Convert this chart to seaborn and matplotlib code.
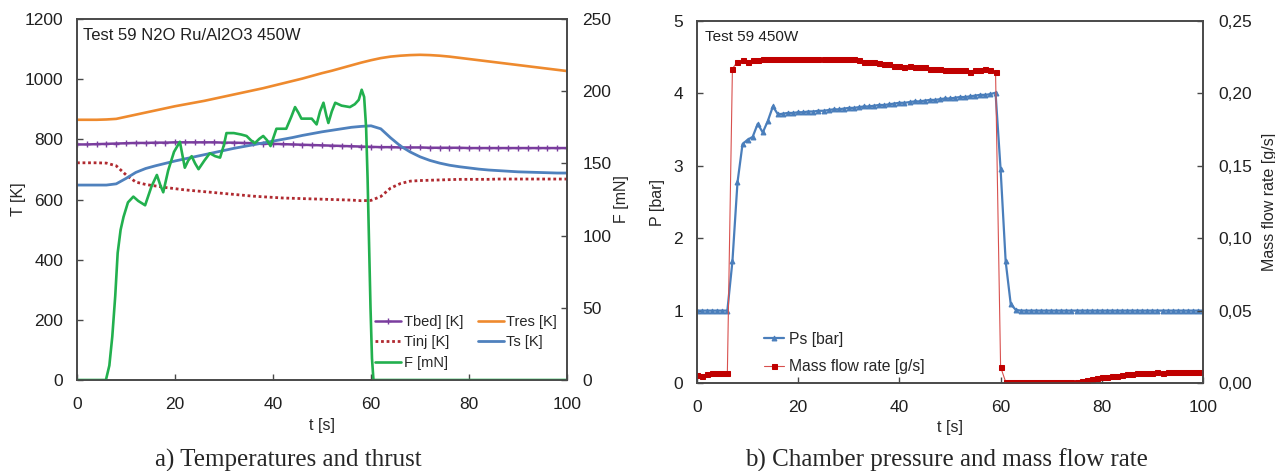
import numpy as np
import pandas as pd
import seaborn as sns
import matplotlib.pyplot as plt
from matplotlib.ticker import FuncFormatter, MultipleLocator

# ---------------- data : panel a) temperatures and thrust ----------------
t_temp = np.arange(0, 101, 2)
T_bed = [783, 783, 784, 785, 786, 787, 788, 788, 789, 789,
         790, 790, 790, 790, 790, 789, 789, 788, 787, 786,
         785, 784, 783, 782, 781, 780, 779, 778, 777, 776,
         775, 774, 774, 773, 773, 773, 772, 772, 772, 772,
         771, 771, 771, 771, 771, 771, 771, 771, 771, 771, 771]
T_res = [865, 865, 865, 866, 868, 875, 882, 889, 896, 903,
         910, 916, 922, 928, 935, 942, 949, 956, 963, 970,
         978, 986, 994, 1002, 1011, 1020, 1028, 1037, 1046, 1055,
         1063, 1070, 1075, 1078, 1080, 1081, 1080, 1078, 1075, 1071,
         1067, 1063, 1059, 1055, 1051, 1047, 1043, 1039, 1035, 1031, 1027]
T_inj = [722, 722, 722, 721, 712, 682, 658, 650, 645, 640,
         636, 632, 629, 626, 623, 620, 617, 614, 611, 609,
         607, 605, 604, 603, 602, 601, 600, 599, 598, 596,
         597, 610, 638, 653, 661, 663, 664, 665, 666, 667,
         667, 667, 667, 668, 668, 668, 668, 668, 668, 668, 668]
T_s = [648, 648, 648, 648, 652, 670, 690, 703, 712, 720,
       728, 735, 742, 749, 756, 763, 770, 776, 782, 788,
       794, 800, 806, 813, 819, 825, 830, 835, 840, 843,
       845, 835, 805, 778, 758, 742, 730, 721, 714, 709,
       705, 701, 698, 696, 694, 692, 691, 690, 689, 688, 688]

t_F = [0, 5.9, 6.6, 7.2, 7.8, 8.3, 8.9, 9.5, 10.4, 11.5,
       12.5, 13.9, 15.2, 16.3, 17.0, 17.6, 18.6, 19.8, 21.0, 21.5,
       22.0, 22.7, 23.4, 24.1, 24.8, 26.0, 27.1, 28.2, 29.2, 30.0,
       30.5, 32.0, 33.5, 34.6, 35.5, 36.3, 37.2, 38.0, 38.8, 39.5,
       40.1, 40.7, 42.7, 43.7, 44.5, 45.2, 45.8, 47.9, 48.9, 49.6,
       50.3, 50.9, 51.3, 52.0, 52.7, 54.0, 55.7, 56.7, 57.5, 58.1,
       58.6, 59.0, 59.3, 59.6, 59.9, 60.2, 60.5, 100]
F_mN = [0, 0, 10, 30, 58, 88, 104, 113, 123, 127,
        124, 121, 134, 142, 135, 130, 145, 158, 165, 156,
        147, 152, 155, 150, 146, 152, 157, 155, 154, 163,
        171, 171, 170, 169, 166, 164, 167, 169, 166, 162,
        168, 174, 174, 182, 189, 185, 181, 181, 177, 186,
        192, 183, 178, 186, 192, 190, 189, 191, 194, 201,
        196, 175, 140, 95, 50, 15, 0, 0]

# ---------------- data : panel b) chamber pressure and mass flow ----------------
t_p = np.arange(0, 101, 1)
P_s = [1.00, 1.00, 1.00, 1.00, 1.00, 1.00, 1.00,
       1.68, 2.77, 3.30, 3.36, 3.40, 3.58, 3.46, 3.62, 3.82, 3.71, 3.72,
       3.73, 3.73, 3.74, 3.74, 3.75, 3.75, 3.76, 3.76, 3.77, 3.78,
       3.78, 3.79, 3.80, 3.80, 3.81, 3.82, 3.82, 3.83, 3.84, 3.84,
       3.85, 3.86, 3.87, 3.87, 3.88, 3.89, 3.89, 3.90, 3.91, 3.91,
       3.92, 3.93, 3.93, 3.94, 3.95, 3.95, 3.96, 3.97, 3.98, 3.98,
       3.99, 4.01, 2.95, 1.68, 1.09, 1.01,
       1.00, 1.00, 1.00, 1.00, 1.00, 1.00, 1.00, 1.00, 1.00, 1.00,
       1.00, 1.00, 1.00, 1.00, 1.00, 1.00, 1.00, 1.00, 1.00, 1.00,
       1.00, 1.00, 1.00, 1.00, 1.00, 1.00, 1.00, 1.00, 1.00, 1.00,
       1.00, 1.00, 1.00, 1.00, 1.00, 1.00, 1.00]
m_dot = [0.0055, 0.0048, 0.0065, 0.0068, 0.0068, 0.0068, 0.0068,
         0.217, 0.222, 0.223, 0.222, 0.223, 0.223, 0.224, 0.224, 0.224,
         0.224, 0.224, 0.224, 0.224, 0.224, 0.224, 0.224, 0.224, 0.224,
         0.224, 0.224, 0.224, 0.224, 0.224, 0.224, 0.224, 0.223, 0.222,
         0.222, 0.222, 0.221, 0.220, 0.220, 0.219, 0.219, 0.218, 0.219,
         0.218, 0.218, 0.218, 0.217, 0.217, 0.217, 0.216, 0.216, 0.216,
         0.216, 0.216, 0.215, 0.216, 0.216, 0.217, 0.216, 0.215, 0.011,
         0.0008,
         0.0008, 0.0008, 0.0008, 0.0008, 0.0008, 0.0008, 0.0008,
         0.0008, 0.0008, 0.0008, 0.0008, 0.0008, 0.0008, 0.0008,
         0.0015, 0.0020, 0.0028, 0.0035, 0.0040, 0.0042, 0.0048, 0.0050,
         0.0055, 0.0060, 0.0062, 0.0068, 0.0070, 0.0072, 0.0072, 0.0073,
         0.0072, 0.0074, 0.0075, 0.0075, 0.0076, 0.0076, 0.0077, 0.0077,
         0.0078]

# ---------------- style ----------------
sns.set_style("ticks")
plt.rcParams['font.family'] = ['Liberation Sans', 'DejaVu Sans']
TICK_FS = 12.5
LAB_FS = 11.5
SPINE = "#484848"
SERIF = ['Liberation Serif', 'DejaVu Serif']

c_bed = "#7A3D9E"
c_res = "#EE8A2E"
c_inj = "#B02A30"
c_s = "#4F81BD"
c_F = "#22B04E"
c_ps = "#4A7EBB"
c_m = "#C00000"

W, H = 1275, 471
fig = plt.figure(figsize=(W / 100, H / 100), dpi=100)


def frac(x0, y0, x1, y1):
    return [x0 / W, 1 - y1 / H, (x1 - x0) / W, (y1 - y0) / H]


def style_axis(ax):
    for sp in ax.spines.values():
        sp.set_visible(True)
        sp.set_color(SPINE)
        sp.set_linewidth(1.2)
    ax.tick_params(direction='in', length=4, width=1, colors=SPINE,
                   labelcolor="#202020", labelsize=TICK_FS)
    ax.tick_params(axis='y', pad=10)
    ax.tick_params(axis='x', pad=12)


# ---------------- panel a ----------------
axA = fig.add_axes(frac(77, 19, 567, 380))
axA2 = axA.twinx()

# seaborn paints marker edges white by default, so give them the line colour
sns.lineplot(x=t_temp, y=T_bed, ax=axA, color=c_bed, lw=1.8, marker='+',
             markersize=4.5, mew=1.0, mec=c_bed, label="Tbed] [K]", legend=False)
sns.lineplot(x=t_temp, y=T_res, ax=axA, color=c_res, lw=1.9,
             label="Tres [K]", legend=False)
sns.lineplot(x=t_temp, y=T_inj, ax=axA, color=c_inj, lw=2.0,
             linestyle=(0, (1, 1)), label="Tinj [K]", legend=False)
sns.lineplot(x=t_temp, y=T_s, ax=axA, color=c_s, lw=2.0,
             label="Ts [K]", legend=False)
sns.lineplot(x=t_F, y=F_mN, ax=axA2, color=c_F, lw=1.9,
             label="F [mN]", legend=False)

axA.set_xlim(0, 100)
axA.set_ylim(0, 1200)
axA2.set_ylim(0, 250)
axA.xaxis.set_major_locator(MultipleLocator(20))
axA.yaxis.set_major_locator(MultipleLocator(200))
axA2.yaxis.set_major_locator(MultipleLocator(50))
for a in (axA, axA2):
    style_axis(a)
axA2.tick_params(axis='y', pad=11)
axA.set_xlabel("t [s]", fontsize=LAB_FS)
axA.set_ylabel("T [K]", fontsize=LAB_FS)
axA2.set_ylabel("F [mN]", fontsize=LAB_FS)
axA.xaxis.set_label_coords(0.5, -0.105)
axA.yaxis.set_label_coords(-0.104, 0.5)
axA2.yaxis.set_label_coords(1.096, 0.5)
axA.text(0.012, 0.975, "Test 59 N2O Ru/Al2O3 450W", transform=axA.transAxes,
         fontsize=12, va='top', ha='left', color="#202020")

hA, lA = axA.get_legend_handles_labels()
hA2, lA2 = axA2.get_legend_handles_labels()
hd = dict(zip(lA + lA2, hA + hA2))
order = ["Tbed] [K]", "Tinj [K]", "F [mN]", "Tres [K]", "Ts [K]"]
axA2.legend([hd[k] for k in order], order, loc='lower right',
            bbox_to_anchor=(1.0, 0.0), ncol=2, frameon=False, fontsize=10.5,
            handlelength=1.8, handletextpad=0.15, columnspacing=1.0,
            labelspacing=0.45, borderaxespad=0.3)

# ---------------- panel b ----------------
axB = fig.add_axes(frac(697, 21, 1203, 383))
axB2 = axB.twinx()

sns.lineplot(x=t_p, y=P_s, ax=axB, color=c_ps, lw=1.6, marker='^',
             markersize=3.5, mec=c_ps, label="Ps [bar]", legend=False)
sns.lineplot(x=t_p, y=m_dot, ax=axB2, color="#D8504E", lw=0.8, marker='s',
             markersize=3.6, mfc=c_m, mec=c_m, label="Mass flow rate [g/s]",
             legend=False)

axB.set_xlim(0, 100)
axB.set_ylim(0, 5)
axB2.set_ylim(0, 0.25)
axB.xaxis.set_major_locator(MultipleLocator(20))
axB.yaxis.set_major_locator(MultipleLocator(1))
axB2.yaxis.set_major_locator(MultipleLocator(0.05))
axB2.yaxis.set_major_formatter(FuncFormatter(lambda v, p: f"{v:.2f}".replace('.', ',')))
for a in (axB, axB2):
    style_axis(a)
axB2.tick_params(axis='y', pad=11)
axB.set_xlabel("t [s]", fontsize=LAB_FS)
axB.set_ylabel("P [bar]", fontsize=LAB_FS)
axB2.set_ylabel("Mass flow rate [g/s]", fontsize=LAB_FS)
axB.xaxis.set_label_coords(0.5, -0.102)
axB.yaxis.set_label_coords(-0.063, 0.5)
axB2.yaxis.set_label_coords(1.117, 0.5)
axB.text(0.015, 0.975, "Test 59 450W", transform=axB.transAxes,
         fontsize=11, va='top', ha='left', color="#202020")

hB, lB = axB.get_legend_handles_labels()
hB2, lB2 = axB2.get_legend_handles_labels()
axB2.legend(hB + hB2, lB + lB2, loc='lower left', bbox_to_anchor=(0.115, 0.0),
            frameon=False, fontsize=11.3, handlelength=1.3, handletextpad=0.3,
            labelspacing=0.8, borderaxespad=0.15)

# ---------------- captions ----------------
fig.text(288 / W, 1 - 467 / H, "a) Temperatures and thrust",
         family=SERIF, fontsize=18, ha='center', va='baseline')
fig.text(946 / W, 1 - 467 / H, "b) Chamber pressure and mass flow rate",
         family=SERIF, fontsize=18, ha='center', va='baseline')

fig.savefig("out.png", dpi=100)
